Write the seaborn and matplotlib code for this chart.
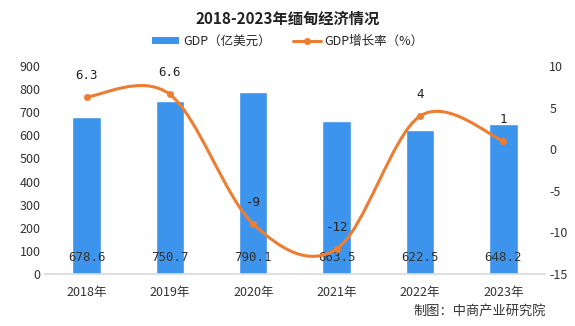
import numpy as np
import pandas as pd
import matplotlib
matplotlib.use("Agg")
import matplotlib.pyplot as plt
from matplotlib.path import Path
from matplotlib.patches import PathPatch
from matplotlib.lines import Line2D
from matplotlib.patches import Patch
import seaborn as sns

years = ["2018年", "2019年", "2020年", "2021年", "2022年", "2023年"]
gdp = [678.6, 750.7, 790.1, 663.5, 622.5, 648.2]
growth = [6.3, 6.6, -9, -12, 4, 1]
growth_labels = ["6.3", "6.6", "-9", "-12", "4", "1"]

sns.set_theme(style="white")
plt.rcParams['font.family'] = ['Noto Sans CJK SC', 'DejaVu Sans']
plt.rcParams['axes.unicode_minus'] = False

BLUE = "#3D94EC"
ORANGE = "#ED7D31"

fig = plt.figure(figsize=(5.75, 3.26), dpi=100)
ax = fig.add_axes([0.078, 0.16, 0.87, 0.637])

df = pd.DataFrame({"year": years, "gdp": gdp})
sns.barplot(data=df, x="year", y="gdp", color=BLUE, width=0.34, ax=ax, saturation=1)
ax.set_ylim(0, 900)
ax.set_yticks(range(0, 901, 100))
ax.set_xlim(-0.5, 5.5)
ax.set_xlabel("")
ax.set_ylabel("")
for s in ["top", "right", "left"]:
    ax.spines[s].set_visible(False)
ax.spines["bottom"].set_color("#d9d9d9")
ax.tick_params(axis="both", labelsize=9, colors="#333333", length=0, pad=3)
ax.tick_params(axis="x", pad=9)
for i, v in enumerate(gdp):
    ax.text(i, 70, f"{v:.1f}", ha="center", va="center", fontsize=9, color="#333333",
            family=['DejaVu Sans Mono', 'DejaVu Sans'])

ax2 = ax.twinx()
ax2.set_ylim(-15, 10)
ax2.set_yticks(range(-15, 11, 5))
for s in ["top", "right", "left", "bottom"]:
    ax2.spines[s].set_visible(False)
ax2.tick_params(axis="y", labelsize=9, colors="#333333", length=0, pad=3)

# smooth line through points (Catmull-Rom style bezier)
xs = np.arange(len(growth), dtype=float)
ys = np.array(growth, dtype=float)
verts = [(xs[0], ys[0])]
codes = [Path.MOVETO]
n = len(xs)
for i in range(n - 1):
    p0 = (xs[max(i - 1, 0)], ys[max(i - 1, 0)])
    p1 = (xs[i], ys[i])
    p2 = (xs[i + 1], ys[i + 1])
    p3 = (xs[min(i + 2, n - 1)], ys[min(i + 2, n - 1)])
    c1 = (p1[0] + (p2[0] - p0[0]) / 6, p1[1] + (p2[1] - p0[1]) / 6)
    c2 = (p2[0] - (p3[0] - p1[0]) / 6, p2[1] - (p3[1] - p1[1]) / 6)
    verts += [c1, c2, p2]
    codes += [Path.CURVE4] * 3
ax2.add_patch(PathPatch(Path(verts, codes), facecolor="none", edgecolor=ORANGE, lw=2.2, zorder=3))
sns.scatterplot(x=xs, y=ys, color=ORANGE, s=22, edgecolor=ORANGE, ax=ax2, zorder=4, legend=False)
for i, (v, lab) in enumerate(zip(growth, growth_labels)):
    ax2.annotate(lab, (i, v), xytext=(0, 11), textcoords="offset points", ha="center",
                 va="bottom", fontsize=9, color="#222222",
                 family=['DejaVu Sans Mono', 'DejaVu Sans'])

fig.text(0.5, 0.943, "2018-2023年缅甸经济情况", ha="center", va="center",
         fontsize=11, fontweight="bold", color="#222222")
handles = [Patch(facecolor=BLUE, edgecolor="none"),
           Line2D([0], [0], color=ORANGE, lw=2.2, marker="o", markersize=4)]
fig.legend(handles, ["GDP（亿美元）", "GDP增长率（%）"], loc="center", bbox_to_anchor=(0.5, 0.873),
           ncol=2, frameon=False, fontsize=9, handlelength=2.2, handleheight=0.6,
           columnspacing=1.8, handletextpad=0.3)
fig.text(0.95, 0.045, "制图：中商产业研究院", ha="right", va="center", fontsize=9.5, color="#333333")

fig.savefig("out.png", dpi=100)
